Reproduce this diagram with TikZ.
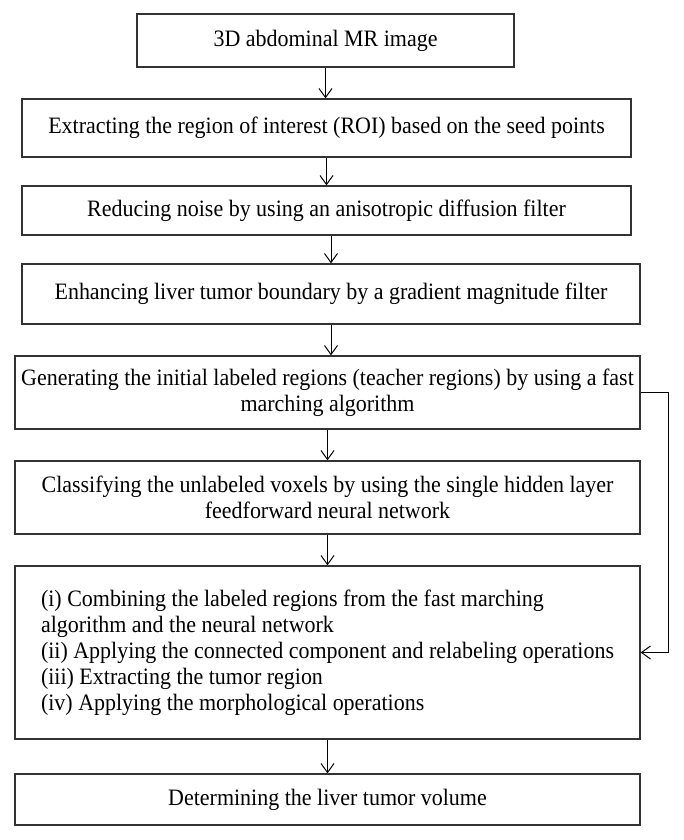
\documentclass[tikz,border=0pt]{standalone}
\usepackage{fontspec}
\setmainfont{Liberation Serif}[FakeStretch=0.935]
\usetikzlibrary{arrows.meta}
\definecolor{boxgray}{HTML}{333333}
\begin{document}
\begin{tikzpicture}[x=1pt,y=-1pt,
  box/.style={draw=boxgray, line width=1.3pt, inner sep=0pt, align=center,
    font=\fontsize{23.5}{26}\selectfont, text=black},
  flow/.style={draw=black, line width=1pt,
    -{Straight Barb[length=9pt,width=13pt,line width=1pt]}}]
\useasboundingbox (0,0) rectangle (683,840);
\node[box, minimum width=377pt, minimum height=53pt] (b1) at (325.5,40.5) {3D abdominal MR image};
\node[box, minimum width=609pt, minimum height=58pt] (b2) at (326.5,128) {Extracting the region of interest (ROI) based on the seed points};
\node[box, minimum width=609pt, minimum height=49pt] (b3) at (326.5,210.5) {Reducing noise by using an anisotropic diffusion filter};
\node[box, minimum width=618pt, minimum height=60pt] (b4) at (331,294) {Enhancing liver tumor boundary by a gradient magnitude filter};
\node[box, minimum width=625pt, minimum height=73pt] (b5) at (327.5,392.5) {Generating the initial labeled regions (teacher regions) by using a fast\\marching algorithm};
\node[box, minimum width=625pt, minimum height=73pt] (b6) at (327.5,497.5) {Classifying the unlabeled voxels by using the single hidden layer\\feedforward neural network};
\node[box, minimum width=625pt, minimum height=173pt, align=left] (b7) at (327.5,652.5) {(i) Combining the labeled regions from the fast marching\\algorithm and the neural network\\(ii) Applying the connected component and relabeling operations\\(iii) Extracting the tumor region\\(iv) Applying the morphological operations};
\node[box, minimum width=625pt, minimum height=51pt] (b8) at (327.5,799.5) {Determining the liver tumor volume};
\coordinate (fb) at (668,0);
\draw[flow] (b1.south) -- (b1.south |- b2.north);
\draw[flow] (b2.south) -- (b2.south |- b3.north);
\draw[flow] (b3.south -| b4.north) -- (b4.north);
\draw[flow] (b4.south) -- (b4.south |- b5.north);
\draw[flow] (b5.south) -- (b5.south |- b6.north);
\draw[flow] (b6.south) -- (b6.south |- b7.north);
\draw[flow] (b7.south) -- (b7.south |- b8.north);
\draw[flow] (b5.east) -- (b5.east -| fb) |- (b7.east);
\end{tikzpicture}
\end{document}
